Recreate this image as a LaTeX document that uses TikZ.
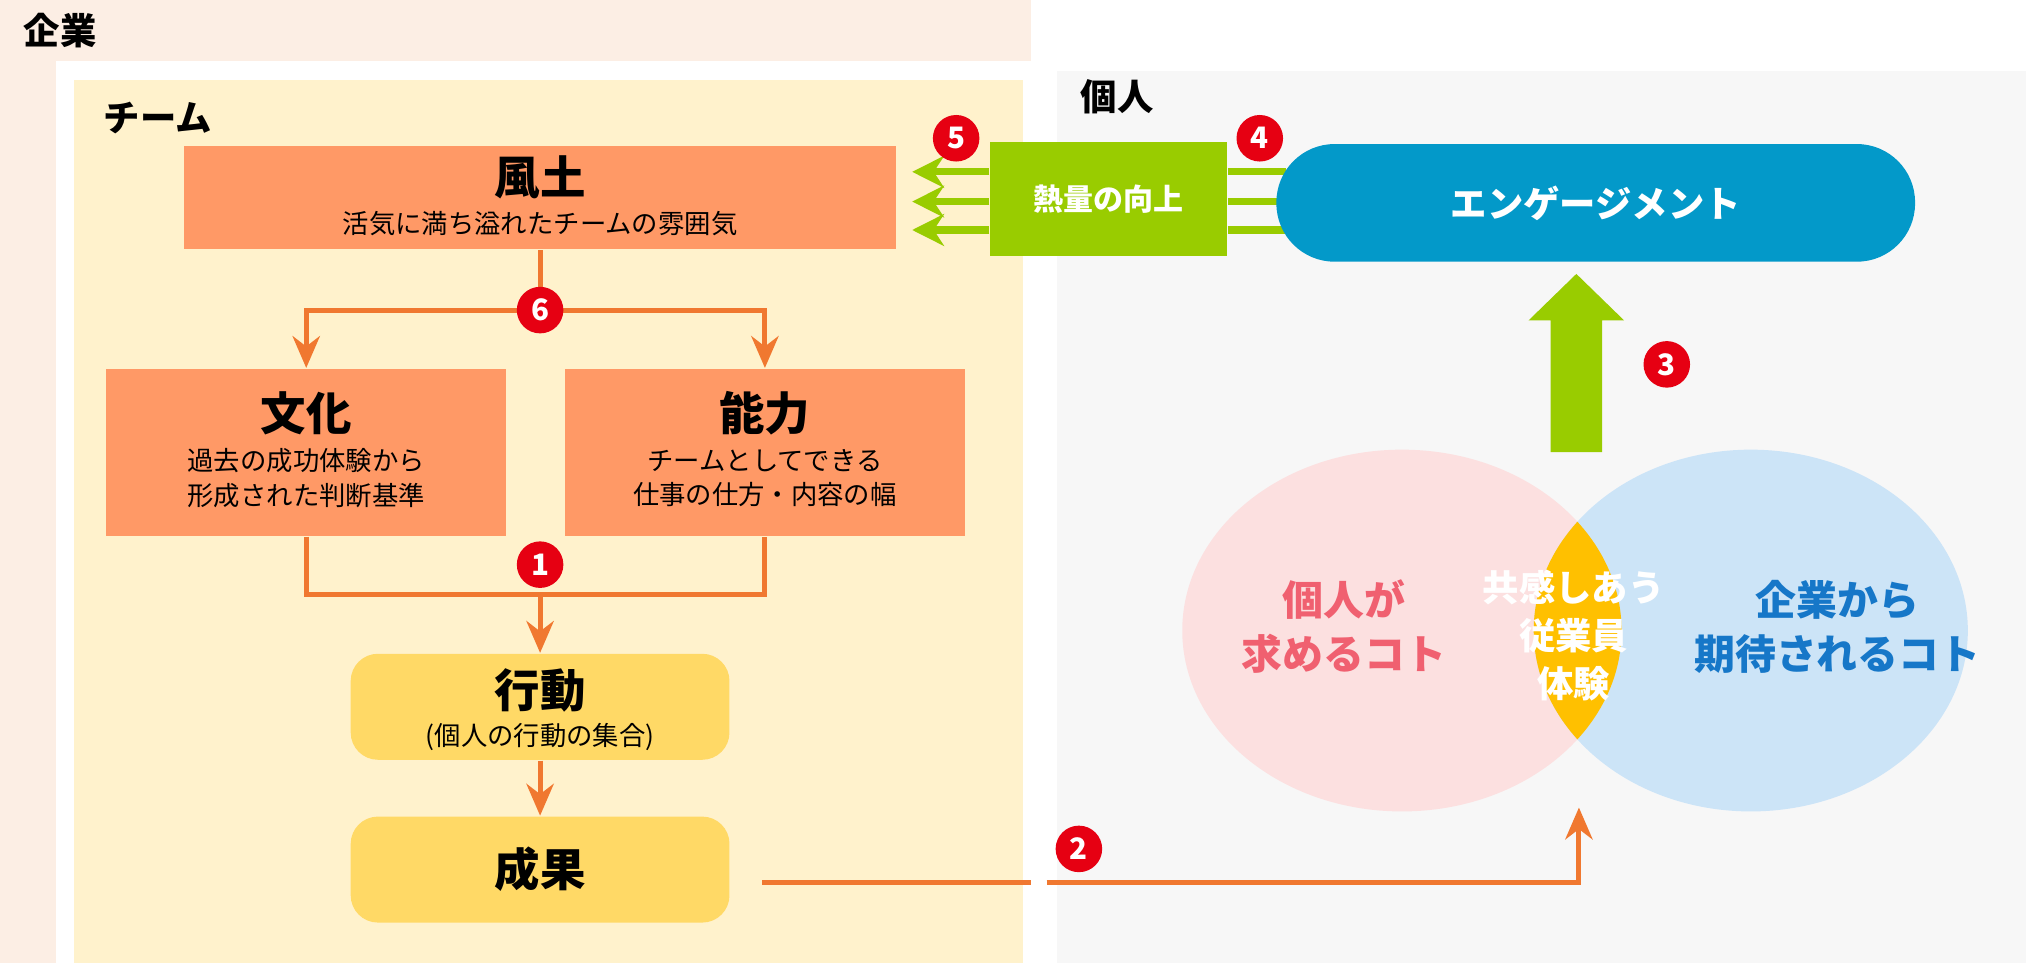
\documentclass[tikz,border=0pt]{standalone}
\usepackage{fontspec}
\setmainfont{Noto Sans CJK JP}
\usetikzlibrary{arrows.meta}
\definecolor{kigyoBg}{HTML}{FCEEE4}
\definecolor{kojinBg}{HTML}{F7F7F7}
\definecolor{teamBg}{HTML}{FFF2CC}
\definecolor{fudoOrange}{HTML}{FF9966}
\definecolor{kodoYellow}{HTML}{FFD966}
\definecolor{lineOrange}{HTML}{F07830}
\definecolor{netsuGreen}{HTML}{99CC00}
\definecolor{engBlue}{HTML}{0399C9}
\definecolor{badgeRed}{HTML}{E60012}
\definecolor{pinkFill}{HTML}{FCE0E0}
\definecolor{blueFill}{HTML}{CCE4F7}
\definecolor{gold}{HTML}{FFC000}
\definecolor{pinkText}{HTML}{F06070}
\definecolor{blueText}{HTML}{1677C8}

\begin{document}
\begin{tikzpicture}[x=0.01cm,y=-0.01cm,>={Stealth[length=7pt,width=6pt]}]
  \tikzstyle{orangeBox} = [fill=fudoOrange, align=center, inner sep=0pt];
  \tikzstyle{yellowBox} = [fill=kodoYellow, rounded corners=6pt, align=center, inner sep=0pt, minimum width=2.93cm, minimum height=0.82cm];
  \tikzstyle{flowLine} = [lineOrange, line width=1.1pt];
  \tikzstyle{greenLine} = [netsuGreen, line width=1.6pt, -{Stealth[length=7pt,width=7pt]}];
  \tikzstyle{badge} = [circle, fill=badgeRed, text=white, inner sep=0pt, minimum size=0.36cm, font={\bfseries\fontsize{6.5}{6.5}\selectfont}];
  \tikzstyle{areaLabel} = [anchor=west, font={\bfseries\fontsize{8}{8}\selectfont}];
  \tikzstyle{title} = [font={\bfseries\fontsize{10}{12}\selectfont}];
  \tikzstyle{sub} = [align=center, font={\fontsize{5.8}{7.6}\selectfont}];

  \useasboundingbox (0,0) rectangle (1568,745);
  % areas
  \fill[kigyoBg] (0,0) rectangle (798,745);
  \fill[white] (43,47) rectangle (1568,745);
  \fill[kojinBg] (818,55) rectangle (1568,745);
  \fill[teamBg] (57,62) rectangle (792,745);
  \node[areaLabel] (kigyo) at (6,24) {企業};
  \node[areaLabel] (team) at (68,91) {チーム};
  \node[areaLabel] (kojin) at (824,75) {個人};

  % team boxes
  \node[orangeBox, minimum width=5.51cm, minimum height=0.8cm] (fudo) at (418,153) {};
  \node[title] at (418,137) {風土};
  \node[sub] at (418,173) {活気に満ち溢れたチームの雰囲気};
  \node[orangeBox, minimum width=3.09cm, minimum height=1.29cm] (bunka) at (237,350) {};
  \node[title] at (237,320) {文化};
  \node[sub] at (237,370) {過去の成功体験から\\形成された判断基準};
  \node[orangeBox, minimum width=3.1cm, minimum height=1.29cm] (noryoku) at (592,350) {};
  \node[title] at (592,320) {能力};
  \node[sub] at (592,370) {チームとしてできる\\仕事の仕方・内容の幅};
  \node[yellowBox] (kodo) at (418,547) {};
  \node[title] at (418,534) {行動};
  \node[font={\fontsize{5.8}{7}\selectfont}] at (418,570) {(個人の行動の集合)};
  \node[yellowBox, title] (seika) at (418,673) {成果};

  % flow lines
  \coordinate (split) at (418,240);
  \coordinate (join) at (418,460);
  \draw[flowLine] (fudo.south) -- (split);
  \draw[flowLine,->] (split) -| (bunka.north);
  \draw[flowLine,->] (split) -| (noryoku.north);
  \draw[flowLine] (bunka.south) |- (join) -| (noryoku.south);
  \draw[flowLine,->] (join) -- (kodo.north);
  \draw[flowLine,->] (kodo.south) -- (seika.north);

  % kojin side
  \node[fill=netsuGreen, text=white, minimum width=1.83cm, minimum height=0.88cm, font={\bfseries\fontsize{6.6}{8}\selectfont}] (netsu) at (858,154) {熱量の向上};
  \foreach \yy in {133,156,178} {
    \draw[greenLine] (netsu.west |- 0,\yy) -- (706,\yy);
    \draw[netsuGreen, line width=1.6pt] (netsu.east |- 0,\yy) -- (995,\yy);
  }
  \node[fill=engBlue, text=white, rounded corners=0.45cm, minimum width=4.94cm, minimum height=0.91cm, font={\bfseries\fontsize{8}{8}\selectfont}] (eng) at (1235,157) {エンゲージメント};
  \fill[netsuGreen] (1200,350) -- (1200,248) -- (1183,248) -- (1220,212) -- (1257,248) -- (1240,248) -- (1240,350) -- cycle;

  % venn
  \fill[pinkFill] (1085,488) ellipse (170 and 140);
  \fill[blueFill] (1355,488) ellipse (168 and 140);
  \begin{scope}
    \clip (1085,488) ellipse (170 and 140);
    \fill[gold] (1355,488) ellipse (168 and 140);
  \end{scope}
  \node[text=pinkText, align=center, font={\bfseries\fontsize{9}{12}\selectfont}] (motomeru) at (1040,485) {個人が\\求めるコト};
  \node[text=blueText, align=center, font={\bfseries\fontsize{9}{12}\selectfont}] (kitai) at (1422,485) {企業から\\期待されるコト};
  \node[text=white, align=center, font={\bfseries\fontsize{8}{10.5}\selectfont}] (kyokan) at (1218,492) {共感しあう\\従業員\\体験};
  \coordinate (vennBottom) at (1222,625);

  % seika to venn
  \coordinate (gapL) at (798,683);
  \coordinate (gapR) at (810,683);
  \draw[flowLine] (590,683) -- (gapL);
  \draw[flowLine,->] (gapR) -| (vennBottom);

  % badges
  \node[badge] (b1) at (418,437) {1};
  \node[badge] (b2) at (835,657) {2};
  \node[badge] (b3) at (1290,282) {3};
  \node[badge] (b4) at (975,107) {4};
  \node[badge] (b5) at (740,107) {5};
  \node[badge] (b6) at (418,240) {6};
\end{tikzpicture}
\end{document}
